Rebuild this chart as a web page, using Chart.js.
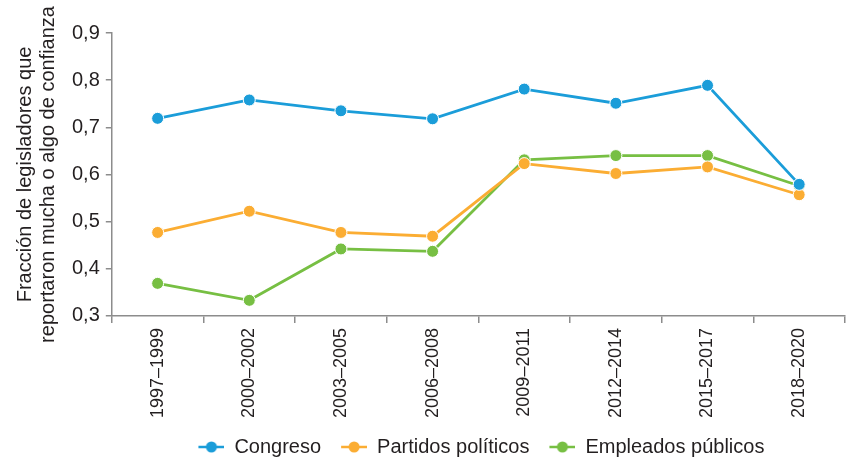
<!DOCTYPE html>
<html>
<head>
<meta charset="utf-8">
<script src="https://cdn.jsdelivr.net/npm/chart.js@4"></script>
<style>
  html, body { margin: 0; padding: 0; background: #fff; overflow: hidden; }
  #wrap { width: 852px; height: 467px; }
</style>
</head>
<body>
<div id="wrap"><canvas id="chart"></canvas></div>
<script>
// ── Data ──────────────────────────────────────────────────────
const periods = ['1997–1999', '2000–2002', '2003–2005', '2006–2008', '2009–2011', '2012–2014', '2015–2017', '2018–2020'];
const congreso = [0.719, 0.758, 0.735, 0.718, 0.781, 0.751, 0.789, 0.579];
const partidos = [0.477, 0.522, 0.477, 0.469, 0.623, 0.602, 0.616, 0.557];
const empleados = [0.369, 0.333, 0.442, 0.437, 0.631, 0.640, 0.640, 0.576];
const yTicks = [0.3, 0.4, 0.5, 0.6, 0.7, 0.8, 0.9];

const FONT = "'Liberation Sans Narrow', 'Arial Narrow', 'Liberation Sans', Arial, sans-serif";
const AXIS = '#8c8c8c';
const TEXT = '#231f20';

// little "line with a dot" marker for the legend (left margin widens the gap between items)
function legendMarker(color) {
  const c = document.createElement('canvas');
  c.width = 32; c.height = 12;
  const g = c.getContext('2d');
  g.strokeStyle = color;
  g.lineWidth = 2.5;
  g.beginPath(); g.moveTo(6, 6); g.lineTo(32, 6); g.stroke();
  g.fillStyle = color;
  g.beginPath(); g.arc(19, 6, 5.5, 0, Math.PI * 2); g.fill();
  return c;
}

function series(label, data, color) {
  return {
    label: label,
    data: data,
    borderColor: color,
    backgroundColor: color,
    pointBackgroundColor: color,
    pointBorderColor: '#ffffff',
    pointBorderWidth: 1,
    pointRadius: 6,
    borderWidth: 2.8,
    tension: 0,
    pointStyle: 'circle',
    legendMarker: legendMarker(color)
  };
}

new Chart(document.getElementById('chart'), {
  type: 'line',
  data: {
    labels: periods,
    datasets: [
      series('Congreso', congreso, '#1b9dd9'),
      series('Partidos políticos', partidos, '#fbad33'),
      series('Empleados públicos', empleados, '#77bf43')
    ]
  },
  options: {
    responsive: true,
    maintainAspectRatio: false,
    animation: false,
    layout: { padding: { top: 33, right: 0, bottom: 0, left: 14 } },
    plugins: {
      tooltip: { enabled: false },
      legend: {
        position: 'bottom',
        fullSize: false,
        labels: {
          color: TEXT,
          font: { family: FONT, size: 20 },
          usePointStyle: true,
          pointStyleWidth: 32,
          padding: 14,
          generateLabels: chart => chart.data.datasets.map((ds, i) => ({
            text: ds.label,
            fillStyle: ds.borderColor,
            strokeStyle: ds.borderColor,
            fontColor: TEXT,
            pointStyle: ds.legendMarker,
            hidden: false,
            datasetIndex: i
          }))
        }
      }
    },
    scales: {
      x: {
        offset: true,
        border: { color: AXIS, width: 1.5 },
        grid: { offset: true, drawOnChartArea: false, drawTicks: true, tickLength: 7, color: AXIS, lineWidth: 1.5 },
        ticks: {
          color: TEXT,
          font: { family: FONT, size: 18 },
          minRotation: 90,
          maxRotation: 90,
          padding: 5
        }
      },
      y: {
        min: 0.3,
        max: 0.9,
        border: { color: AXIS, width: 1.5 },
        grid: { drawOnChartArea: false, drawTicks: true, tickLength: 6, color: AXIS, lineWidth: 1.5 },
        afterBuildTicks: axis => { axis.ticks = yTicks.map(v => ({ value: v })); },
        ticks: {
          color: TEXT,
          font: { family: FONT, size: 20 },
          padding: 6,
          callback: v => v.toFixed(1).replace('.', ',')
        },
        title: {
          display: true,
          text: ['Fracción de legisladores que', 'reportaron mucha o algo de confianza'],
          color: TEXT,
          font: { family: FONT, size: 20, lineHeight: 1.15 },
          padding: { top: 0, bottom: 6 }
        }
      }
    }
  }
});
</script>
</body>
</html>
